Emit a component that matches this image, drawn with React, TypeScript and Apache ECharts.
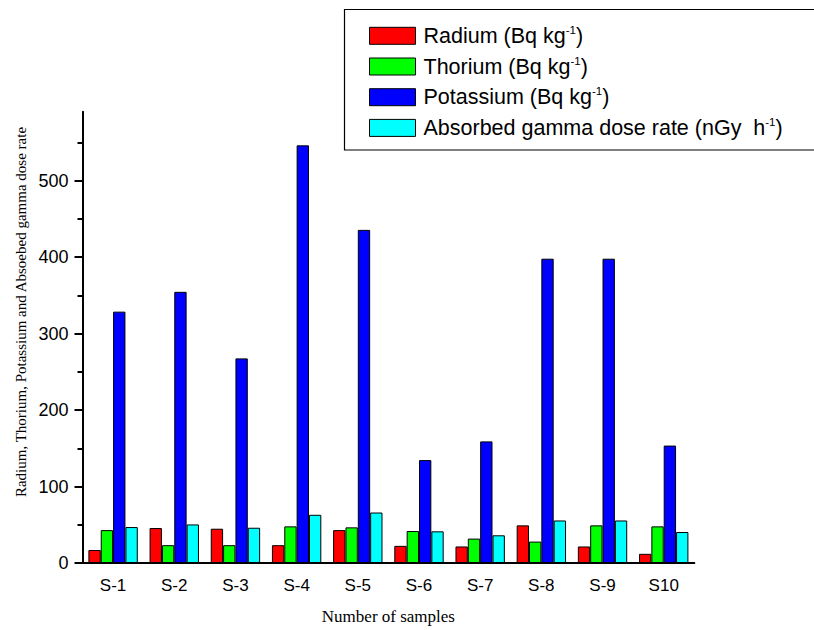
import React, { useEffect, useRef } from 'react';
import * as echarts from 'echarts';

const categories = ['S-1', 'S-2', 'S-3', 'S-4', 'S-5', 'S-6', 'S-7', 'S-8', 'S-9', 'S10'];
const radium = [17, 45.7, 44.8, 23.3, 43, 22.4, 21.6, 49.2, 21.6, 12];
const thorium = [43, 23.3, 23.3, 47.9, 46.6, 41.8, 31.9, 28, 49.2, 47.9];
const potassium = [328.6, 354.5, 267.5, 546, 435.5, 134.5, 159, 397.8, 397.8, 153.5];
const gammaDose = [47, 50.4, 46.1, 63, 66, 41.4, 36.2, 55.6, 55.6, 40.5];
const yMajorTicks = [0, 100, 200, 300, 400, 500];
const yMinorTicks = [50, 150, 250, 350, 450, 550];
const yMax = 590;

const legendLabels: Record<string, string> = {
  'Radium': '{n|Radium (Bq kg}{s|-1}{n|)}',
  'Thorium': '{n|Thorium (Bq kg}{s|-1}{n|)}',
  'Potassium': '{n|Potassium (Bq kg}{s|-1}{n|)}',
  'Absorbed gamma dose rate': '{n|Absorbed gamma dose rate (nGy  h}{s|-1}{n|)}',
};

const SANS = '"Liberation Sans", Arial, sans-serif';
const SERIF = '"Liberation Serif", "Times New Roman", serif';

export default function App() {
  const ref = useRef<HTMLDivElement>(null);
  useEffect(() => {
    const chart = echarts.init(ref.current!, null, { renderer: 'svg' });
    const mk = (name: string, data: number[], color: string) => ({
      name,
      type: 'bar',
      data,
      xAxisIndex: 0,
      yAxisIndex: 0,
      barGap: '0%',
      barCategoryGap: '19.3%',
      itemStyle: { color, borderColor: '#000', borderWidth: 1 },
    });
    chart.setOption({
      animation: false,
      backgroundColor: '#fff',
      grid: { left: 82.5, top: 111.7, right: 119.7, bottom: 64, containLabel: false },
      legend: {
        orient: 'vertical',
        left: 369,
        top: 23.8,
        padding: 0,
        icon: 'rect',
        itemWidth: 46,
        itemHeight: 17,
        itemGap: 6.7,
        selectedMode: false,
        formatter: (name: string) => legendLabels[name] || name,
        itemStyle: { borderColor: '#000', borderWidth: 1 },
        textStyle: {
          color: '#000',
          fontFamily: SANS,
          fontSize: 21.5,
          lineHeight: 24,
          padding: [0, 0, 0, 3],
          rich: {
            n: { fontFamily: SANS, fontSize: 21.5, color: '#000', lineHeight: 24 },
            s: { fontFamily: SANS, fontSize: 11.5, color: '#000', verticalAlign: 'top', lineHeight: 13 },
          },
        },
        data: ['Radium', 'Thorium', 'Potassium', 'Absorbed gamma dose rate'],
      },
      xAxis: [
        {
          type: 'category',
          data: categories,
          name: 'Number of samples',
          nameLocation: 'middle',
          nameGap: 45,
          nameTextStyle: { fontFamily: SERIF, fontSize: 17, color: '#000' },
          axisLine: { lineStyle: { color: '#000', width: 2 } },
          axisTick: { alignWithLabel: true, length: 8, lineStyle: { color: '#000', width: 2 } },
          axisLabel: { color: '#000', fontFamily: SANS, fontSize: 17, margin: 14 },
        },
        {
          type: 'category',
          data: categories,
          position: 'bottom',
          axisLine: { show: false },
          axisTick: { length: 5, lineStyle: { color: '#000', width: 2 } },
          axisLabel: { show: false },
        },
      ],
      yAxis: [
        {
          type: 'value',
          min: 0,
          max: yMax,
          interval: 100,
          axisLine: { show: true, lineStyle: { color: '#000', width: 2 } },
          axisTick: { show: true, length: 8, customValues: yMajorTicks, lineStyle: { color: '#000', width: 2 } },
          axisLabel: { color: '#000', fontFamily: SANS, fontSize: 18, margin: 14, customValues: yMajorTicks },
          splitLine: { show: false },
        },
        {
          type: 'value',
          min: 0,
          max: yMax,
          interval: 100,
          position: 'left',
          axisLine: { show: false },
          axisTick: { show: true, length: 5, customValues: yMinorTicks, lineStyle: { color: '#000', width: 2 } },
          axisLabel: { show: false },
          splitLine: { show: false },
        },
      ],
      graphic: [
        {
          type: 'rect',
          shape: { x: 344.5, y: 9.5, width: 520, height: 140.5 },
          style: { fill: 'none', stroke: '#000', lineWidth: 1.2 },
          z: 10,
        },
        {
          type: 'text',
          x: 20.5,
          y: 312,
          rotation: Math.PI / 2,
          style: {
            text: 'Radium, Thorium, Potassium and Absoebed gamma dose rate',
            font: `15px ${SERIF}`,
            fill: '#000',
            textAlign: 'center',
            textVerticalAlign: 'middle',
          },
        },
      ],
      series: [
        mk('Radium', radium, '#ff0000'),
        mk('Thorium', thorium, '#00ff00'),
        mk('Potassium', potassium, '#0000ff'),
        mk('Absorbed gamma dose rate', gammaDose, '#00ffff'),
      ],
    });
    return () => chart.dispose();
  }, []);
  return (
    <div
      ref={ref}
      style={{ position: 'fixed', left: 0, top: 0, width: 814, height: 630, background: '#fff' }}
    />
  );
}
